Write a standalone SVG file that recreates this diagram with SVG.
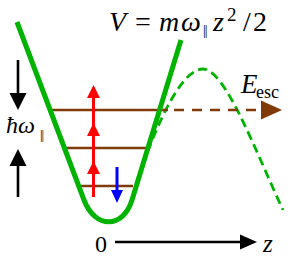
<svg xmlns="http://www.w3.org/2000/svg" width="291" height="268" viewBox="0 0 291 268">
<style>
.math{font-family:"Liberation Serif","Times New Roman","DejaVu Serif",serif;font-style:italic;fill:#000}
.rm{font-style:normal}
.lev{stroke:#7f3a08;stroke-width:2.6;fill:none}
</style>
<defs>
<path id="headUp" d="M0,0 L-6.5,13 L6.5,13 Z"/>
</defs>
<rect width="291" height="268" fill="#fff"/>
<g id="barrier">
<path d="M138,178 C158,120 182,69 203,69 C225,69 255,150 283,210" fill="none" stroke="#00b300" stroke-width="2.8" stroke-dasharray="9,5"/>
</g>
<g id="levels">
<line class="lev" x1="48" y1="110" x2="168" y2="110"/>
<line class="lev" x1="174" y1="110" x2="264" y2="110" stroke-dasharray="10,8"/>
<path d="M282,110 L261,100.5 L261,119.5 Z" fill="#7f3a08"/>
<line class="lev" x1="62" y1="148" x2="147" y2="148"/>
<line class="lev" x1="77" y1="186" x2="133" y2="186"/>
</g>
<g id="potential">
<path d="M17,22 L84,200 C95,229 123,229 132,200 L181,40" fill="none" stroke="#00b300" stroke-width="5" stroke-linejoin="round"/>
</g>
<g id="transitions">
<line x1="93.5" y1="197" x2="93.5" y2="92" stroke="#f00" stroke-width="3"/>
<use href="#headUp" x="93.5" y="85" fill="#f00"/>
<use href="#headUp" x="93.5" y="123" fill="#f00"/>
<use href="#headUp" x="93.5" y="161" fill="#f00"/>
<line x1="117" y1="167" x2="117" y2="195" stroke="#00f" stroke-width="3"/>
<path d="M117,203 L111,190 L123,190 Z" fill="#00f"/>
</g>
<g id="spacing">
<line x1="18" y1="60" x2="18" y2="95" stroke="#000" stroke-width="2.6"/>
<path d="M18,110 L9.5,93 L26.5,93 Z" fill="#000"/>
<line x1="18" y1="197" x2="18" y2="164" stroke="#000" stroke-width="2.6"/>
<path d="M18,149 L9.5,166 L26.5,166 Z" fill="#000"/>
</g>
<g id="axis">
<line x1="115" y1="242" x2="242" y2="242" stroke="#000" stroke-width="2.5"/>
<path d="M257,242 L240,234.5 L240,249.5 Z" fill="#000"/>
</g>
<g id="labels">
<text class="math" font-size="28" y="31"><tspan x="109">V</tspan><tspan class="rm" x="135">=</tspan><tspan x="159">m</tspan><tspan x="181">ω</tspan><tspan class="rm" x="203" y="35" font-size="14" letter-spacing="-1">||</tspan><tspan x="213" y="31">z</tspan><tspan class="rm" x="227" y="21" font-size="19">2</tspan><tspan class="rm" x="243" y="31">/</tspan><tspan class="rm" x="253" y="31">2</tspan></text>
<text class="math" font-size="27" y="93"><tspan x="241">E</tspan><tspan class="rm" x="256" y="98" font-size="18">esc</tspan></text>
<text class="math" font-size="24" y="133"><tspan x="6">ħω</tspan><tspan class="rm" x="40" y="139" font-size="13" letter-spacing="-1">||</tspan></text>
<text class="math rm" font-size="24" x="95" y="252">0</text>
<text class="math" font-size="25" x="263" y="252">z</text>
</g>
</svg>
